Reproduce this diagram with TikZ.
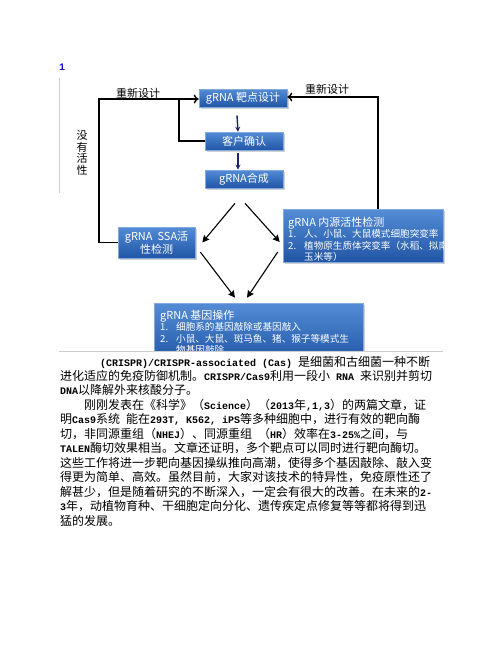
\documentclass[tikz,border=0pt]{standalone}
\usepackage{fontspec}
\setmainfont{Noto Sans CJK SC}
\setmonofont{Liberation Mono}
\usepackage{xcolor}
\usetikzlibrary{arrows.meta,shadows}

\definecolor{boxtop}{RGB}{84,140,214}
\definecolor{boxbot}{RGB}{32,86,165}
\definecolor{boxedge}{RGB}{130,170,222}
\definecolor{navy}{RGB}{28,38,105}
\definecolor{rulegray}{RGB}{205,205,205}
\definecolor{numblue}{RGB}{20,20,200}

\newcommand{\lat}[1]{{\fontsize{10}{12}\selectfont\ttfamily\bfseries #1}}
\newcommand{\num}[1]{\makebox[16pt][l]{#1}}

\begin{document}
\begin{tikzpicture}[x=1pt,y=-1pt,
    box/.style={rectangle, top color=boxtop, bottom color=boxbot, draw=boxedge, line width=0.6pt,
        text=white, font=\fontsize{11}{13}\selectfont, inner sep=2pt,
        drop shadow={shadow xshift=1.5pt, shadow yshift=-1.5pt, opacity=0.35}},
    boxtxt/.style={anchor=north west, inner sep=0pt, align=left, text=white,
        font=\fontsize{9.6}{11.4}\selectfont},
    fb/.style={line width=1.8pt, black},
    dn/.style={line width=1.4pt, navy, -{Stealth[length=5pt,width=5pt]}},
    dg/.style={line width=1.1pt, black, -{Stealth[length=7pt,width=7pt,inset=1pt]}},
    lbl/.style={font=\fontsize{11}{13}\selectfont, inner sep=0pt},
    body/.style={anchor=base west, inner sep=0pt, font=\fontsize{12}{14}\selectfont}]
\useasboundingbox[fill=white] (0,0) rectangle (502,649);

% page marks
\node[text=numblue, inner sep=0pt] (pg) at (62,67) {\lat{1}};
\draw[rulegray, line width=0.8pt] (59,78) -- (59,193);

% flow boxes
\node[box, minimum width=88, minimum height=18] (tgt) at (243,98) {gRNA 靶点设计};
\node[box, minimum width=78, minimum height=18] (cfm) at (244,141) {客户确认};
\node[box, minimum width=78, minimum height=18] (syn) at (244,179) {gRNA合成};
\node[box, minimum width=77, minimum height=31, align=center] (ssa) at (156.5,242.5) {gRNA\ \ SSA活\\性检测};
\node[box, minimum width=160, minimum height=53] (endo) at (363,235.5) {};
\begin{scope}
  \clip (endo.south west) rectangle (endo.north east);
  \node[boxtxt] (endotxt) at (288,217) {{\fontsize{11}{13}\selectfont gRNA 内源活性检测}\\
    \num{1.}人、小鼠、大鼠模式细胞突变率\\
    \num{2.}植物原生质体突变率（水稻、拟南芥、\\
    \num{}玉米等）};
\end{scope}
\begin{scope}
  \clip (0,0) rectangle (502,351);
  \node[box, minimum width=209, minimum height=60] (ops) at (258.5,333) {};
  \node[boxtxt] (opstxt) at (160,310) {{\fontsize{11}{13}\selectfont gRNA 基因操作}\\
    \num{1.}细胞系的基因敲除或基因敲入\\
    \num{2.}小鼠、大鼠、斑马鱼、猪、猴子等模式生\\
    \num{}物基因敲除};
\end{scope}
\draw[rulegray, line width=0.8pt] (59,351.5) -- (443,351.5);

% main flow
\draw[dn] ([xshift=-6pt]tgt.south) ++(0,8) -- ([xshift=-6pt]cfm.north);
\draw[dn] ([xshift=-6pt]cfm.south) ++(0,3) -- ([xshift=-6pt]syn.north);
\draw[dg] ([xshift=-9pt,yshift=-15pt]syn.south) -- ([xshift=7pt]ssa.east);
\draw[dg] ([xshift=1pt,yshift=-15pt]syn.south) -- ([xshift=-3pt,yshift=-6.5pt]endo.west);
\draw[dg] ([xshift=5pt,yshift=-9.5pt]ssa.east) -- ([xshift=-23.5pt,yshift=5pt]ops.north);
\draw[dg] ([xshift=-5pt,yshift=-16.5pt]endo.west) -- ([xshift=-11.5pt,yshift=5pt]ops.north);

% redesign loops
\coordinate (lc) at (99,99);
\coordinate (bj) at (179,99);
\coordinate (rc) at (378,97);
\draw[fb, -{To[length=5pt,width=9pt,line width=1.4pt]}] (ssa.west) -| (lc) -- (lc -| tgt.west);
\draw[line width=1.2pt] (cfm.west) -| (bj);
\draw[fb, -{To[length=5pt,width=9pt,line width=1.4pt]}] (rc |- endo.north) -- (rc) -- (rc -| tgt.east);
\node[lbl] (re1) at (138,93) {重新设计};
\node[lbl] (re2) at (327,89) {重新设计};
\node[lbl, align=center, font=\fontsize{11}{11.5}\selectfont] (noact) at (82,153) {没\\有\\活\\性};

% text below
\node[body] (p1) at (100,366) {\lat{(CRISPR)/CRISPR-associated (Cas) }是细菌和古细菌一种不断};
\node[body] (p2) at (60,380.5) {进化适应的免疫防御机制。\lat{CRISPR/Cas9}利用一段小\lat{ RNA }来识别并剪切};
\node[body] (p3) at (60,394.9) {\lat{DNA}以降解外来核酸分子。};
\node[body] (p4) at (84,409.4) {刚刚发表在《科学》（\lat{Science}）（\lat{2013}年\lat{,1,3}）的两篇文章，证};
\node[body] (p5) at (60,423.8) {明\lat{Cas9}系统\lat{ }能在\lat{293T, K562, iPS}等多种细胞中，进行有效的靶向酶};
\node[body] (p6) at (60,438.3) {切，非同源重组（\lat{NHEJ}）、同源重组\lat{ }（\lat{HR}）效率在\lat{3-25\%}之间，与};
\node[body] (p7) at (60,452.7) {\lat{TALEN}酶切效果相当。文章还证明，多个靶点可以同时进行靶向酶切。};
\node[body] (p8) at (60,467.2) {这些工作将进一步靶向基因操纵推向高潮，使得多个基因敲除、敲入变};
\node[body] (p9) at (60,481.6) {得更为简单、高效。虽然目前，大家对该技术的特异性，免疫原性还了};
\node[body] (p10) at (60,496.1) {解甚少，但是随着研究的不断深入，一定会有很大的改善。在未来的\lat{2-}};
\node[body] (p11) at (60,510.5) {\lat{3}年，动植物育种、干细胞定向分化、遗传疾定点修复等等都将得到迅};
\node[body] (p12) at (60,525) {猛的发展。};
\end{tikzpicture}
\end{document}
